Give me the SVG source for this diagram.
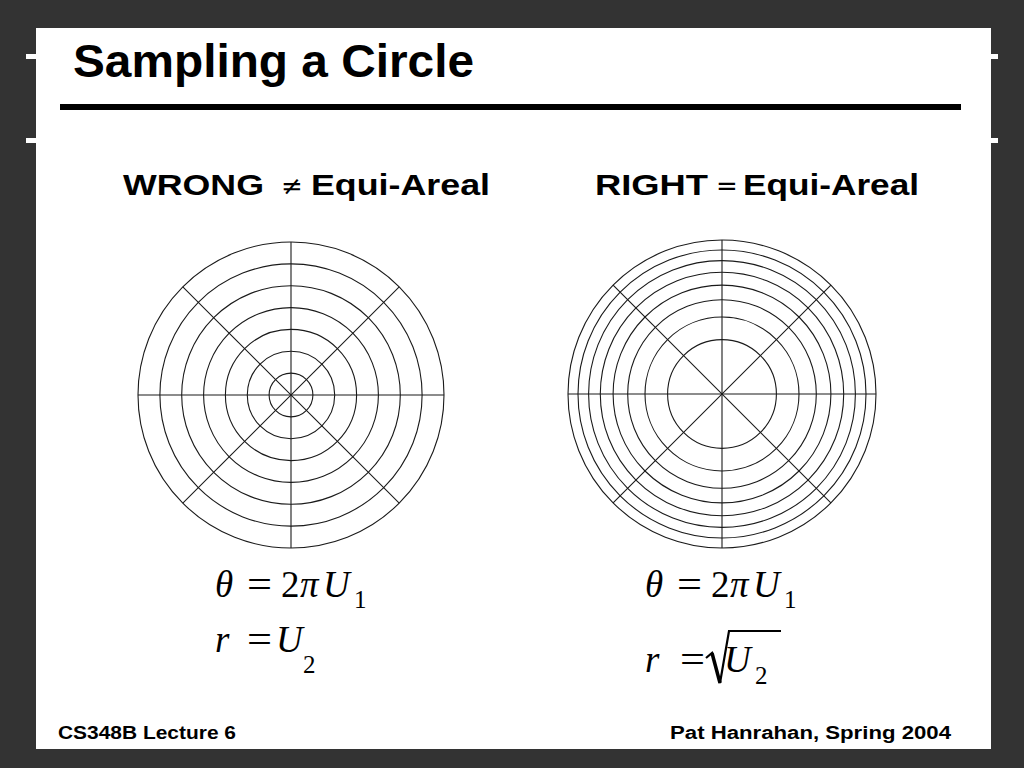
<svg xmlns="http://www.w3.org/2000/svg" width="1024" height="768" viewBox="0 0 1024 768">
<defs>
<style>
.sans{font-family:"Liberation Sans",Arial,sans-serif;font-weight:bold;fill:#000}
.ser{font-family:"Liberation Serif","Times New Roman",serif;fill:#000;font-size:37px}
.it{font-style:italic}
.sub{font-size:25px}
.grid{fill:none;stroke:#1a1a1a;stroke-width:1.1}
.tick{fill:#fff}
</style>
</defs>
<rect x="0" y="0" width="1024" height="768" fill="#333333"/>
<rect x="36" y="28" width="955" height="721" fill="#ffffff"/>
<rect class="tick" x="26" y="54" width="10" height="5"/>
<rect class="tick" x="26" y="138" width="10" height="5"/>
<rect class="tick" x="991" y="54" width="7" height="5"/>
<rect class="tick" x="991" y="138" width="7" height="5"/>

<g id="title">
<text class="sans" x="73" y="77" font-size="47" textLength="401" lengthAdjust="spacingAndGlyphs">Sampling a Circle</text>
<rect x="60" y="104" width="901" height="6" fill="#000"/>
</g>

<g id="heading-wrong">
<text class="sans" x="123" y="195" font-size="30" textLength="141" lengthAdjust="spacingAndGlyphs">WRONG</text>
<text x="281" y="195" font-size="26" font-family="'DejaVu Sans',sans-serif" fill="#000">≠</text>
<text class="sans" x="311" y="195" font-size="30" textLength="179" lengthAdjust="spacingAndGlyphs">Equi-Areal</text>
</g>
<g id="heading-right">
<text class="sans" x="595" y="195" font-size="30" textLength="113" lengthAdjust="spacingAndGlyphs">RIGHT</text>
<text x="716" y="195" font-size="26" font-family="'DejaVu Sans',sans-serif" fill="#000">=</text>
<text class="sans" x="743" y="195" font-size="30" textLength="176" lengthAdjust="spacingAndGlyphs">Equi-Areal</text>
</g>

<g id="wrong-circle" class="grid" transform="translate(291,395)">
<circle r="21.9"/><circle r="43.7"/><circle r="65.6"/><circle r="87.4"/><circle r="109.3"/><circle r="131.1"/><circle r="153"/>
<line x1="-153" y1="0" x2="153" y2="0"/>
<line x1="0" y1="-153" x2="0" y2="153"/>
<line x1="-108.2" y1="-108.2" x2="108.2" y2="108.2"/>
<line x1="-108.2" y1="108.2" x2="108.2" y2="-108.2"/>
</g>

<g id="right-circle" class="grid" transform="translate(722,394)">
<circle r="54.4"/><circle r="77"/><circle r="94.3"/><circle r="108.9"/><circle r="121.7"/><circle r="133.4"/><circle r="144"/><circle r="154"/>
<line x1="-154" y1="0" x2="154" y2="0"/>
<line x1="0" y1="-154" x2="0" y2="154"/>
<line x1="-108.9" y1="-108.9" x2="108.9" y2="108.9"/>
<line x1="-108.9" y1="108.9" x2="108.9" y2="-108.9"/>
</g>

<g id="formula-wrong">
<text class="ser it" x="215" y="597">θ</text>
<text class="ser" x="247" y="597" textLength="25" lengthAdjust="spacingAndGlyphs">=</text>
<text class="ser" x="281" y="597">2</text>
<text class="ser it" x="300" y="597">π</text>
<text class="ser it" x="323" y="597">U</text>
<text class="ser sub" x="354" y="608">1</text>
<text class="ser it" x="215" y="652">r</text>
<text class="ser" x="247" y="652" textLength="25" lengthAdjust="spacingAndGlyphs">=</text>
<text class="ser it" x="276" y="652">U</text>
<text class="ser sub" x="303" y="673">2</text>
</g>

<g id="formula-right">
<text class="ser it" x="645" y="597">θ</text>
<text class="ser" x="677" y="597" textLength="25" lengthAdjust="spacingAndGlyphs">=</text>
<text class="ser" x="711" y="597">2</text>
<text class="ser it" x="730" y="597">π</text>
<text class="ser it" x="753" y="597">U</text>
<text class="ser sub" x="784" y="608">1</text>
<text class="ser it" x="645" y="672">r</text>
<text class="ser" x="680" y="672" textLength="25" lengthAdjust="spacingAndGlyphs">=</text>
<path d="M706,658 L712,653 L720,683 L729,631 L781,631" fill="none" stroke="#000" stroke-width="2.2" stroke-linejoin="miter"/>
<path d="M712,653 L720,683" fill="none" stroke="#000" stroke-width="3.5"/>
<text class="ser it" x="724" y="672">U</text>
<text class="ser sub" x="755" y="684">2</text>
</g>

<g id="footer">
<text class="sans" x="58" y="739" font-size="18" textLength="178" lengthAdjust="spacingAndGlyphs">CS348B Lecture 6</text>
<text class="sans" x="670" y="739" font-size="18" textLength="281" lengthAdjust="spacingAndGlyphs">Pat Hanrahan, Spring 2004</text>
</g>
</svg>
